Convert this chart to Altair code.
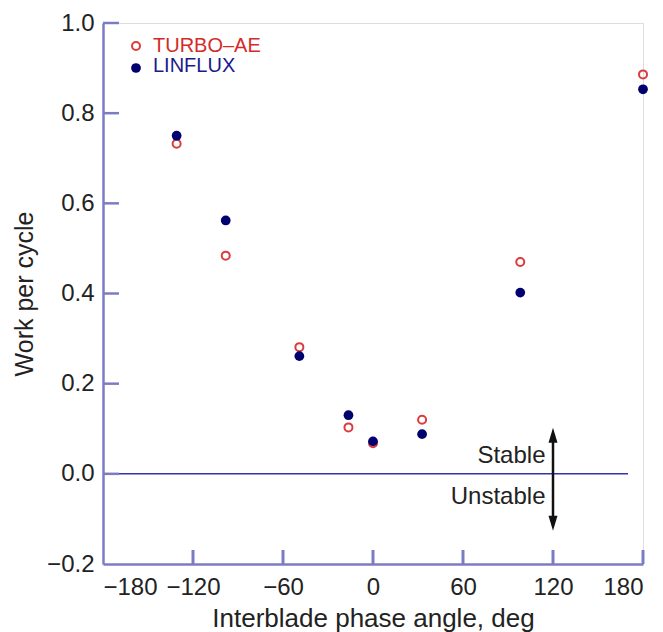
import altair as alt
import pandas as pd

# ---- data ----
angles = [-130.91, -98.18, -49.09, -16.36, 0.0, 32.73, 98.18, 180.0]
turbo_ae = [0.732, 0.484, 0.281, 0.103, 0.068, 0.120, 0.470, 0.886]
linflux = [0.750, 0.562, 0.261, 0.130, 0.072, 0.088, 0.402, 0.853]

x_ticks = [-120, -60, 0, 60, 120, 180]
y_ticks = [1.0, 0.8, 0.6, 0.4, 0.2, 0.0]

series_names = ["TURBO\u2013AE", "LINFLUX"]
series_colors = ["#d42a2a", "#1a1a8c"]

AXIS = "#7c7cc4"
FONT = "Liberation Sans"

xs = alt.Scale(domain=[-180, 180], nice=False, zero=False)
ys = alt.Scale(domain=[-0.2, 1.0], nice=False, zero=False)

df_t = pd.DataFrame({"angle": angles, "work": turbo_ae})
df_l = pd.DataFrame({"angle": angles, "work": linflux})

base_x = alt.X("angle:Q", scale=xs,
               axis=alt.Axis(values=[-180, -120, -60, 0, 60, 120, 180], format="d",
                             ticks=False, grid=False, domainColor=AXIS, domainWidth=2.5,
                             labelFontSize=24, labelFont=FONT, labelColor="#222",
                             labelPadding=11, title="Interblade phase angle, deg",
                             titleFontSize=26, titleFont=FONT, titleFontWeight="normal",
                             titleColor="#222", titlePadding=6))
base_y = alt.Y("work:Q", scale=ys,
               axis=alt.Axis(values=[1.0, 0.8, 0.6, 0.4, 0.2, 0.0, -0.2], format=".1f",
                             ticks=False, grid=False, domainColor=AXIS, domainWidth=2.5,
                             labelFontSize=24, labelFont=FONT, labelColor="#222",
                             labelPadding=9, title="Work per cycle",
                             titleFontSize=25, titleFont=FONT, titleFontWeight="normal",
                             titleColor="#222", titlePadding=9))

turbo_pts = alt.Chart(df_t).mark_point(shape="circle", filled=False, size=64,
                                        strokeWidth=2, color="#dd3b3b", opacity=1).encode(
    x=base_x, y=base_y)
lin_pts = alt.Chart(df_l).mark_circle(size=95, color="#00006e", opacity=1).encode(
    x="angle:Q", y="work:Q")

# inward tick marks
xt = pd.DataFrame({"angle": x_ticks, "y0": [-0.2] * len(x_ticks), "y1": [-0.2 + 0.2 * 14 / 90] * len(x_ticks)})
x_tick_rules = alt.Chart(xt).mark_rule(color=AXIS, strokeWidth=3).encode(
    x=alt.X("angle:Q", scale=xs), y=alt.Y("y0:Q", scale=ys), y2="y1:Q")
yt = pd.DataFrame({"work": y_ticks, "x0": [-180] * len(y_ticks), "x1": [-180 + 16 / 1.5] * len(y_ticks)})
y_tick_rules = alt.Chart(yt).mark_rule(color=AXIS, strokeWidth=2.5).encode(
    y=alt.Y("work:Q", scale=ys), x=alt.X("x0:Q", scale=xs), x2="x1:Q")

# zero line
zero_df = pd.DataFrame({"x0": [-180], "x1": [170], "work": [0.0]})
zero_line = alt.Chart(zero_df).mark_rule(color="#3434a8", strokeWidth=1.5).encode(
    x=alt.X("x0:Q", scale=xs), x2="x1:Q", y=alt.Y("work:Q", scale=ys))

# stable / unstable arrow
arrow_df = pd.DataFrame({"angle": [120], "top": [0.08], "bot": [-0.104]})
arrow_line = alt.Chart(arrow_df).mark_rule(color="#111", strokeWidth=2.5).encode(
    x=alt.X("angle:Q", scale=xs), y=alt.Y("top:Q", scale=ys), y2="bot:Q")
head_up = alt.Chart(arrow_df).mark_point(shape="M0,-1L0.45,0.5L-0.45,0.5Z", filled=True,
                                         size=400, color="#111", opacity=1).encode(
    x=alt.X("angle:Q", scale=xs), y=alt.Y("top:Q", scale=ys))
head_dn = alt.Chart(arrow_df).mark_point(shape="M0,1L0.45,-0.5L-0.45,-0.5Z", filled=True,
                                         size=400, color="#111", opacity=1).encode(
    x=alt.X("angle:Q", scale=xs), y=alt.Y("bot:Q", scale=ys))

lab_df = pd.DataFrame({"angle": [115, 115], "work": [0.025, -0.066], "txt": ["Stable", "Unstable"]})
labels = alt.Chart(lab_df).mark_text(align="right", baseline="alphabetic", fontSize=24,
                                     font=FONT, color="#222").encode(
    x=alt.X("angle:Q", scale=xs), y=alt.Y("work:Q", scale=ys), text="txt:N")

# legend
leg_df = pd.DataFrame({"name": series_names, "color": series_colors, "ypix": [29, 49]})
leg_t_sym = alt.Chart(leg_df.iloc[[0]]).mark_point(shape="circle", filled=False, size=64,
                                                    strokeWidth=2, color="#dd3b3b", opacity=1).encode(
    x=alt.value(33), y=alt.value(23))
leg_l_sym = alt.Chart(leg_df.iloc[[1]]).mark_circle(size=95, color="#00006e", opacity=1).encode(
    x=alt.value(33), y=alt.value(45))
leg_txt = alt.Chart(leg_df).mark_text(align="left", baseline="alphabetic", fontSize=20,
                                      font=FONT).encode(
    x=alt.value(50), y=alt.Y("ypix:Q", scale=None), text="name:N",
    color=alt.Color("color:N", scale=None))

chart = alt.layer(
    zero_line, x_tick_rules, y_tick_rules, turbo_pts, lin_pts,
    arrow_line, head_up, head_dn, labels, leg_t_sym, leg_l_sym, leg_txt
).properties(
    width=540, height=541,
    autosize=alt.AutoSizeParams(type="none"),
    padding={"left": 95, "top": 15, "right": 12, "bottom": 68},
).configure_view(stroke=None).configure(background="white")

chart.save("out.html", embed_options={"renderer": "svg", "actions": False})
